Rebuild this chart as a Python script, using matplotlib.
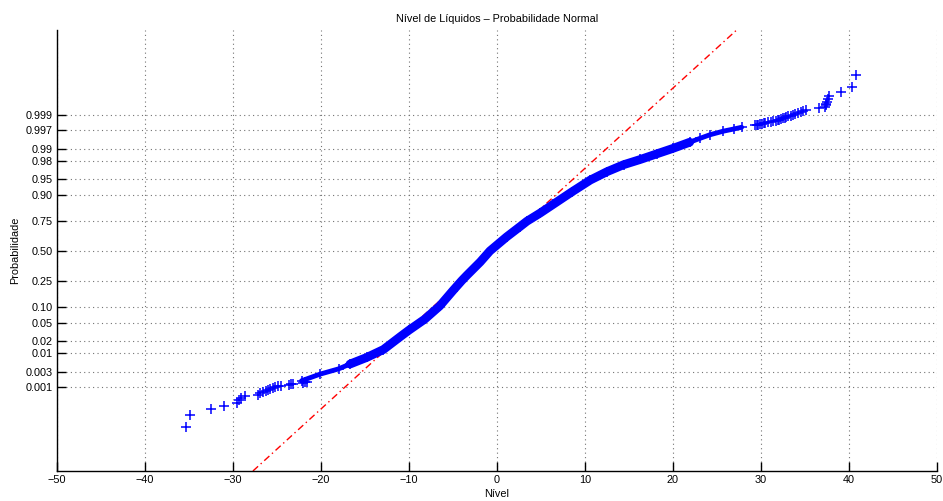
import matplotlib
matplotlib.use("Agg")
import matplotlib.pyplot as plt
from statistics import NormalDist

plt.rcParams['font.family'] = ['Liberation Sans', 'DejaVu Sans']

# --- dados -----------------------------------------------------------------
n_obs = 15800  # número de medições de nível

# menores observações ordenadas (postos 1, 2, 3, ...)
nivel_inferior = [-35.3, -34.9, -32.5, -31.0, -29.5, -29.3, -29.1, -28.6,
                  -27.2, -26.9, -26.6, -26.3, -26.0, -25.8, -25.5, -25.2,
                  -24.9, -24.5, -23.6, -23.4, -23.2, -22.0, -21.8, -21.6]

# maiores observações ordenadas (postos n-K+1 ... n)
nivel_superior = [29.3, 29.5, 29.7, 29.9, 30.1, 30.3, 30.5, 30.8, 31.1, 31.4,
                  31.7, 31.9, 32.1, 32.3, 32.5, 32.7, 32.9, 33.1, 33.4, 33.6,
                  33.9, 34.2, 34.5, 34.8, 35.1, 36.6, 37.25, 37.35, 37.4,
                  37.5, 37.6, 37.7, 39.05, 40.4, 40.8]

# corpo da distribuição: nível x probabilidade acumulada empírica
nivel_corpo = [-22.2, -20.1, -18.0, -16.7, -14.8, -12.9, -11.0, -10.0, -8.2,
               -6.5, -5.0, -4.0, -3.4, -1.9, -0.8, 1.1, 2.6, 3.4, 4.9, 6.4,
               8.5, 10.6, 12.5, 14.4, 16.3, 18.2, 20.0, 21.9, 23.1, 24.2,
               25.7, 26.9, 27.8]
prob_corpo = [0.00159, 0.00256, 0.00368, 0.00508, 0.00776, 0.01255, 0.0256,
              0.0359, 0.0606, 0.1056, 0.184, 0.25, 0.2912, 0.4013, 0.5,
              0.6255, 0.7088, 0.75, 0.8051, 0.8554, 0.9099, 0.9463, 0.9641,
              0.9750, 0.9812, 0.9864, 0.9901, 0.99324, 0.99477, 0.99585,
              0.99674, 0.99720, 0.99752]

# quartis usados na reta de referência
quartis = [-4.0, 3.4]

prob_ticks = [0.001, 0.003, 0.01, 0.02, 0.05, 0.10, 0.25, 0.50, 0.75, 0.90,
              0.95, 0.98, 0.99, 0.997, 0.999]
prob_labels = ['0.001', '0.003', '0.01', '0.02', '0.05', '0.10', '0.25',
               '0.50', '0.75', '0.90', '0.95', '0.98', '0.99', '0.997',
               '0.999']
x_ticks = [-50, -40, -30, -20, -10, 0, 10, 20, 30, 40, 50]

# --- escala normal -----------------------------------------------------------
nd = NormalDist()
z = nd.inv_cdf

z_inf = [z((i + 0.5) / n_obs) for i in range(len(nivel_inferior))]
k_sup = len(nivel_superior)
z_sup = [z((n_obs - k_sup + i + 0.5) / n_obs) for i in range(k_sup)]
z_corpo = [z(p) for p in prob_corpo]

fig = plt.figure(figsize=(9.43, 5.01), dpi=100)
ax = fig.add_axes([0.0604, 0.0599, 0.9332, 0.8802])

azul = (0, 0, 1)
# faixa densa de pontos: traço largo no miolo, mais estreito nas pontas
miolo = [i for i, v in enumerate(nivel_corpo) if -17.0 <= v <= 22.0]
ax.plot([nivel_corpo[i] for i in miolo], [z_corpo[i] for i in miolo], '-',
        color=azul, lw=6.3, solid_capstyle='round', solid_joinstyle='round',
        zorder=3)
ax.plot(nivel_corpo, z_corpo, '-', color=azul, lw=3.5,
        solid_capstyle='round', solid_joinstyle='round', zorder=3)
ax.plot(nivel_corpo, z_corpo, '+', color=azul, ms=6.5, mew=1.1, zorder=3)
ax.plot(nivel_inferior, z_inf, '+', color=azul, ms=6.5, mew=1.1, zorder=3)
ax.plot(nivel_superior, z_sup, '+', color=azul, ms=6.5, mew=1.1, zorder=3)

# reta pelos quartis, estendida até os limites do eixo
ylim = (-5.0, 5.02)
zq1, zq3 = z(0.25), z(0.75)
inc = (quartis[1] - quartis[0]) / (zq3 - zq1)
xr = [quartis[0] + (ylim[0] - zq1) * inc, quartis[0] + (ylim[1] - zq1) * inc]
ax.plot(xr, ylim, color='red', lw=1.0, dashes=[5, 2.5, 1, 2.5], zorder=2)

ax.set_xlim(-50, 50)
ax.set_ylim(*ylim)
ax.set_xticks(x_ticks)
ax.set_yticks([z(p) for p in prob_ticks])
ax.set_yticklabels(prob_labels)

for s in ('top', 'right'):
    ax.spines[s].set_visible(False)
for s in ('left', 'bottom'):
    ax.spines[s].set_linewidth(1.0)
    ax.spines[s].set_color('black')

ax.tick_params(direction='in', length=6.5, width=1.0, labelsize=7.8,
               colors='black', pad=3)
ax.grid(True, color='0.45', linestyle=(0, (1, 3)), linewidth=0.8)
ax.set_axisbelow(True)

ax.set_title('Nível de Líquidos – Probabilidade Normal', fontsize=7.8, pad=6)
ax.set_xlabel('Nível', fontsize=7.8, labelpad=2.5)
ax.set_ylabel('Probabilidade', fontsize=7.8, labelpad=4)

fig.savefig('out.png', dpi=100)
